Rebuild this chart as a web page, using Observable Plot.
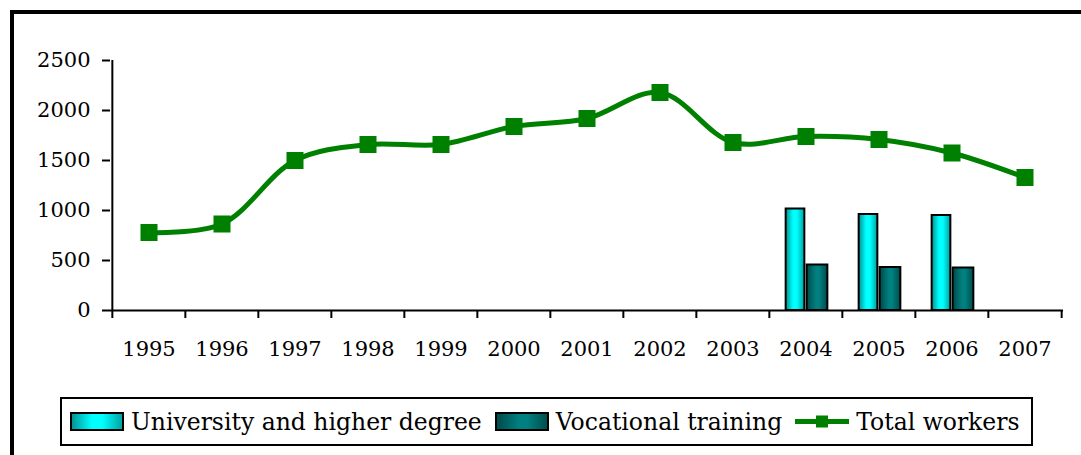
<!DOCTYPE html>
<html><head><meta charset="utf-8">
<script src="https://cdn.jsdelivr.net/npm/d3@7"></script>
<script src="https://cdn.jsdelivr.net/npm/@observablehq/plot@0.6"></script>
<style>
html,body{margin:0;padding:0;background:#fff;overflow:hidden;width:1081px;height:455px}
#frame{position:absolute;left:10px;top:10px;width:1200px;height:600px;border-left:4px solid #000;border-top:4px solid #000;}
#chart{position:absolute;left:0;top:0}
#legend{position:absolute;left:60px;top:397px;width:969px;height:45px;border:2px solid #000;display:flex;align-items:center;font-family:'DejaVu Serif';font-size:23.5px;color:#000;box-sizing:content-box;white-space:nowrap}
.sw{margin-right:7px;display:block;flex:none}
.item{display:flex;align-items:center;margin-right:13px;flex:none}
</style></head>
<body>
<svg width="0" height="0" style="position:absolute">
  <defs>
    <linearGradient id="gradU" x1="0" x2="1" y1="0" y2="0">
      <stop offset="0%" stop-color="#009090"/>
      <stop offset="40%" stop-color="#00ffff"/>
      <stop offset="60%" stop-color="#00ffff"/>
      <stop offset="100%" stop-color="#00a0a0"/>
    </linearGradient>
    <linearGradient id="gradV" x1="0" x2="1" y1="0" y2="0">
      <stop offset="0%" stop-color="#004848"/>
      <stop offset="45%" stop-color="#008080"/>
      <stop offset="60%" stop-color="#008080"/>
      <stop offset="100%" stop-color="#004c4c"/>
    </linearGradient>
  </defs>
</svg>
<div id="frame"></div>
<div id="chart"></div>
<div id="legend">
  <div class="item" style="margin-left:8px">
    <svg class="sw" width="54" height="19"><rect x="1" y="1" width="52" height="17" fill="url(#gradU)" stroke="#000" stroke-width="2"/></svg>
    <span id="l1"></span>
  </div>
  <div class="item">
    <svg class="sw" width="54" height="19"><rect x="1" y="1" width="52" height="17" fill="url(#gradV)" stroke="#000" stroke-width="2"/></svg>
    <span id="l2"></span>
  </div>
  <div class="item">
    <svg class="sw" width="54" height="19"><line x1="0" x2="54" y1="9.5" y2="9.5" stroke="#008000" stroke-width="5"/><rect x="21" y="3.5" width="12" height="12" fill="#008000"/></svg>
    <span id="l3"></span>
  </div>
</div>
<script>
const years = ["1995","1996","1997","1998","1999","2000","2001","2002","2003","2004","2005","2006","2007"];
const totalWorkers = [780, 865, 1500, 1660, 1660, 1840, 1920, 2180, 1680, 1740, 1710, 1575, 1330];
const barYears = ["2004","2005","2006"];
const university = [1015, 960, 950];
const vocational = [455, 430, 425];
const yTicks = [0, 500, 1000, 1500, 2000, 2500];
const seriesNames = ["University and higher degree", "Vocational training", "Total workers"];

document.getElementById("l1").textContent = seriesNames[0];
document.getElementById("l2").textContent = seriesNames[1];
document.getElementById("l3").textContent = seriesNames[2];

const lineData = years.map((y, i) => ({year: y, total: totalWorkers[i]}));
const barData = barYears.map((y, i) => ({year: y, university: university[i], vocational: vocational[i]}));

const W = 1081, H = 380, mL = 110, mR = 18, mT = 60, mB = 70;
const band = (W - mL - mR) / years.length;
const FONT = "DejaVu Serif";

const chart = Plot.plot({
  width: W, height: H,
  marginLeft: mL, marginRight: mR, marginTop: mT, marginBottom: mB,
  style: {fontFamily: FONT, fontSize: "21px", color: "#000", background: "transparent", overflow: "visible"},
  x: {type: "band", domain: years, padding: 0},
  y: {domain: [0, 2500]},
  marks: [
    Plot.barY(barData, {x: "year", y: "university", fill: "url(#gradU)", stroke: "#000", strokeWidth: 2,
      insetLeft: band/2 - 20, insetRight: band/2 + 1}),
    Plot.barY(barData, {x: "year", y: "vocational", fill: "url(#gradV)", stroke: "#000", strokeWidth: 2,
      insetLeft: band/2 + 1, insetRight: band/2 - 22}),
    Plot.ruleY([0], {stroke: "#000", strokeWidth: 2}),
    Plot.ruleX([years[0]], {y1: 0, y2: 2500, dx: -band/2, stroke: "#000", strokeWidth: 2}),
    Plot.axisY({ticks: yTicks, tickSize: 8, tickPadding: 12, label: null, strokeWidth: 2, fontSize: 21, fontFamily: FONT, tickFormat: d3.format("d")}),
    Plot.axisX({ticks: years, tickSize: 8, tickFormat: () => "", label: null, dx: -band/2, strokeWidth: 2}),
    Plot.axisX({ticks: [years[years.length-1]], tickSize: 8, tickFormat: () => "", label: null, dx: band/2, strokeWidth: 2}),
    Plot.axisX({ticks: years, tickSize: 0, tickPadding: 31, label: null, fontSize: 21, fontFamily: FONT}),
    Plot.line(lineData, {x: "year", y: "total", stroke: "#008000", strokeWidth: 5, curve: "catmull-rom"}),
    Plot.dot(lineData, {x: "year", y: "total", symbol: "square", r: 9.6, fill: "#008000", stroke: "none"})
  ]
});
document.getElementById("chart").appendChild(chart);
</script>
</body></html>
